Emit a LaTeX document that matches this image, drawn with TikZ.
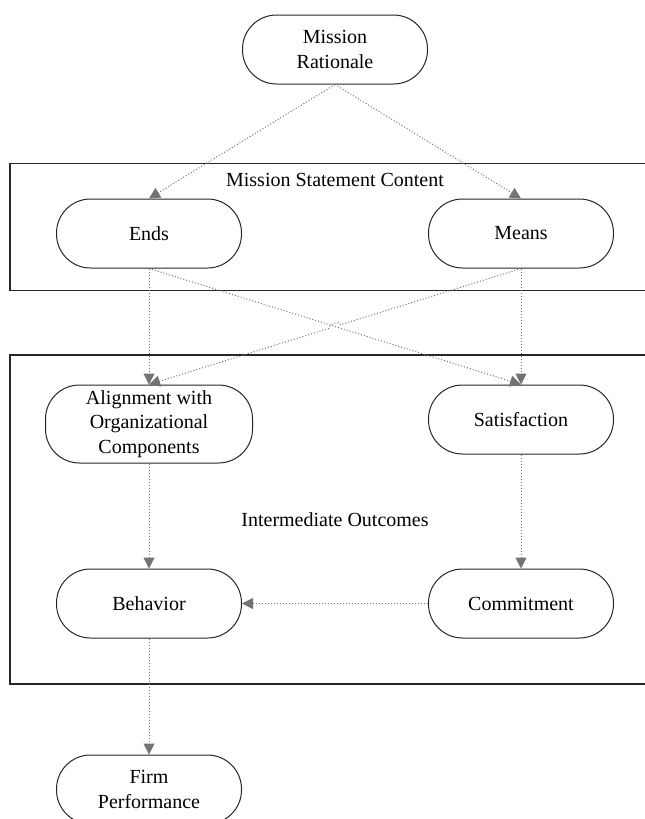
\documentclass[tikz,border=0pt]{standalone}
\usepackage{fontspec}
\setmainfont{Liberation Serif}
\usetikzlibrary{arrows.meta,positioning,calc,fit}
\tikzset{
  pillbox/.style={draw=black!85, line width=0.5pt, rounded corners=17pt,
    minimum width=92.5pt, minimum height=34.5pt, inner sep=2pt,
    align=center, font=\fontsize{10}{12.2}\selectfont},
  groupframe/.style={draw=black!85, line width=0.6pt, inner sep=0pt},
  grouptitle/.style={inner sep=0pt, font=\fontsize{10}{12.2}\selectfont},
  arrw/.style={-{Triangle[length=5.5pt, width=5.5pt]}, gray!90!black,
    line width=0.5pt, densely dotted},
}
\begin{document}
\begin{tikzpicture}
  \useasboundingbox (0,0) rectangle (322pt,-409.5pt);

  % Rationale
  \node[pillbox] (rationale) at (167.5pt,-24.75pt) {Mission\\Rationale};

  % Statement content
  \node[pillbox, below left=57pt and 0pt of rationale] (ends) {Ends};
  \node[pillbox, below right=57pt and 0pt of rationale] (means) {Means};

  % Intermediate outcomes
  \node[pillbox, below=58pt of ends, minimum width=103.5pt, minimum height=39pt]
    (align) {Alignment with\\Organizational\\Components};
  \node[pillbox, below=58pt of means] (satisfaction) {Satisfaction};
  \node[pillbox, below=52.5pt of align] (behavior) {Behavior};
  \node[pillbox] (commitment) at (behavior -| means) {Commitment};

  % Performance
  \node[pillbox, below=58pt of behavior] (firm) {Firm\\Performance};

  % Group frames
  \node[groupframe, fit={($(ends.north west)+(-23pt,17.5pt)$)
    ($(means.south east)+(23pt,-11pt)$)}] (content) {};
  \node[grouptitle, below=5pt of content.north] {Mission Statement Content};
  \node[groupframe, fit={($(align.north -| behavior.west)+(-23pt,14.75pt)$)
    ($(commitment.south east)+(23pt,-22.75pt)$)}] (outcomes) {};
  \node[grouptitle] at (outcomes.center) {Intermediate Outcomes};

  % Arrows
  \draw[arrw] (rationale.south) -- (ends.north);
  \draw[arrw] (rationale.south) -- (means.north);
  \draw[arrw] (ends.south) -- (align.north);
  \draw[arrw] (means.south) -- (satisfaction.north);
  \draw[arrw] (ends.south) -- (satisfaction.north);
  \coordinate (cross) at ($(means.south)!.5!(align.north)$);
  \draw[arrw] (means.south) -- ($(cross)!3pt!(means.south)$)
    to[bend right=90] ($(cross)!3pt!(align.north)$) -- (align.north);
  \draw[arrw] (align.south) -- (behavior.north);
  \draw[arrw] (satisfaction.south) -- (commitment.north);
  \draw[arrw] (commitment.west) -- (behavior.east);
  \draw[arrw] (behavior.south) -- (firm.north);
\end{tikzpicture}
\end{document}
